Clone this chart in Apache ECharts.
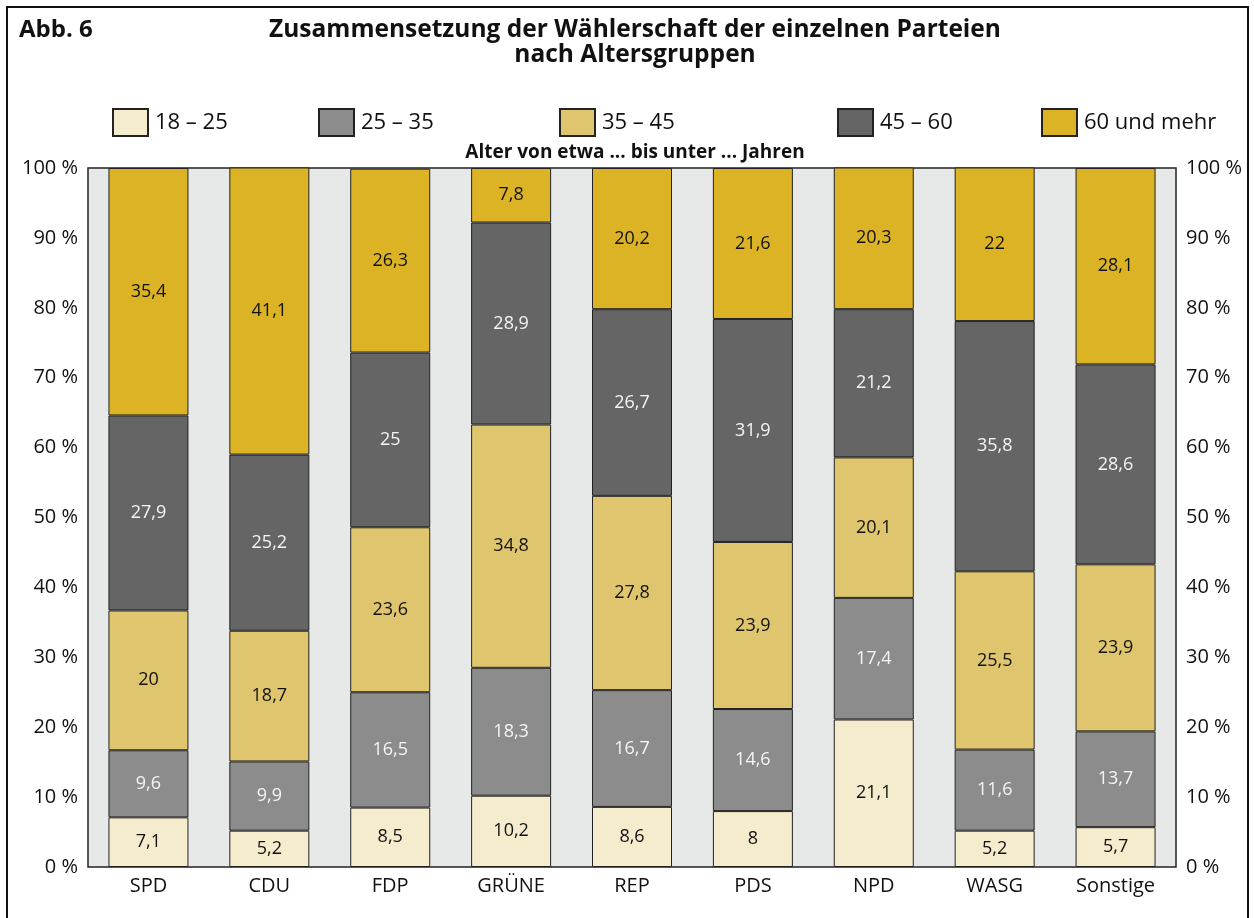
<!DOCTYPE html>
<html>
<head>
<meta charset="utf-8">
<script src="https://cdn.jsdelivr.net/npm/echarts@6.0.0/dist/echarts.min.js"></script>
<style>
  html, body { margin: 0; padding: 0; background: #fff; }
  #chart { width: 1254px; height: 918px; }
</style>
</head>
<body>
<div id="chart"></div>
<script>
const parties = ['SPD', 'CDU', 'FDP', 'GRÜNE', 'REP', 'PDS', 'NPD', 'WASG', 'Sonstige']
const groups = ['18 – 25', '25 – 35', '35 – 45', '45 – 60', '60 und mehr']
const age18to25 = [7.1, 5.2, 8.5, 10.2, 8.6, 8, 21.1, 5.2, 5.7]
const age25to35 = [9.6, 9.9, 16.5, 18.3, 16.7, 14.6, 17.4, 11.6, 13.7]
const age35to45 = [20, 18.7, 23.6, 34.8, 27.8, 23.9, 20.1, 25.5, 23.9]
const age45to60 = [27.9, 25.2, 25, 28.9, 26.7, 31.9, 21.2, 35.8, 28.6]
const age60plus = [35.4, 41.1, 26.3, 7.8, 20.2, 21.6, 20.3, 22, 28.1]
const yTicks = [0, 10, 20, 30, 40, 50, 60, 70, 80, 90, 100]

const seriesData = [age18to25, age25to35, age35to45, age45to60, age60plus]
const colors = ['#f5ebcd', '#8c8c8c', '#dfc66e', '#656565', '#dbb325']
const labelColors = ['#111', '#f4f4f4', '#111', '#f4f4f4', '#111']
const legendLeft = [107, 313, 554, 832, 1036]

const font = 'Open Sans'
const chart = echarts.init(document.getElementById('chart'))

const yAxisBase = {
  type: 'value',
  min: 0,
  max: 100,
  interval: 10,
  axisLine: { show: false },
  axisTick: { show: false },
  splitLine: { show: false },
  axisLabel: {
    formatter: v => (yTicks.includes(v) ? v + ' %' : ''),
    fontSize: 20,
    color: '#111',
    fontFamily: font,
    margin: 10,
  },
}

const option = {
  animation: false,
  backgroundColor: '#fff',
  graphic: [
    {
      type: 'rect',
      shape: { x: 7, y: 7, width: 1241, height: 940 },
      style: { fill: 'none', stroke: '#111', lineWidth: 2 },
      silent: true,
    },
  ],
  title: [
    {
      text: 'Abb. 6',
      left: 14,
      top: 13,
      textStyle: { fontSize: 24, fontWeight: 'bold', color: '#111', fontFamily: font },
    },
    {
      text: 'Zusammensetzung der Wählerschaft der einzelnen Parteien\nnach Altersgruppen',
      left: 630,
      top: 13,
      textAlign: 'center',
      textStyle: { fontSize: 24.5, fontWeight: 'bold', color: '#111', fontFamily: font, lineHeight: 25 },
    },
    {
      text: 'Alter von etwa ... bis unter ... Jahren',
      left: 630,
      top: 138,
      textAlign: 'center',
      textStyle: { fontSize: 19, fontWeight: 'bold', color: '#111', fontFamily: font },
    },
  ],
  legend: groups.map((g, i) => ({
    data: [g],
    left: legendLeft[i],
    top: 103,
    itemWidth: 35,
    itemHeight: 27,
    itemGap: 12,
    icon: 'rect',
    textStyle: { fontSize: 22, color: '#111', fontFamily: font, padding: [0, 0, 0, 2] },
    selectedMode: false,
  })),
  grid: {
    left: 88,
    right: 78,
    top: 168,
    bottom: 51,
    show: true,
    backgroundColor: '#e7e8e8',
    borderColor: '#222',
    borderWidth: 1.5,
  },
  xAxis: {
    type: 'category',
    data: parties,
    axisLine: { show: false },
    axisTick: { show: false },
    axisLabel: { fontSize: 20, color: '#111', fontFamily: font, margin: 9 },
  },
  yAxis: [
    Object.assign({}, yAxisBase, { position: 'left' }),
    Object.assign({}, yAxisBase, { position: 'right', axisLabel: Object.assign({}, yAxisBase.axisLabel, { align: 'left' }) }),
  ],
  series: groups.map((g, i) => ({
    name: g,
    type: 'bar',
    stack: 'total',
    barWidth: 80,
    yAxisIndex: 0,
    data: seriesData[i],
    itemStyle: { color: colors[i], borderColor: '#222', borderWidth: 1 },
    label: {
      show: true,
      position: 'inside',
      formatter: p => String(p.value).replace('.', ','),
      fontSize: 18,
      color: labelColors[i],
      fontFamily: font,
    },
  })),
}

chart.setOption(option)
</script>
</body>
</html>
